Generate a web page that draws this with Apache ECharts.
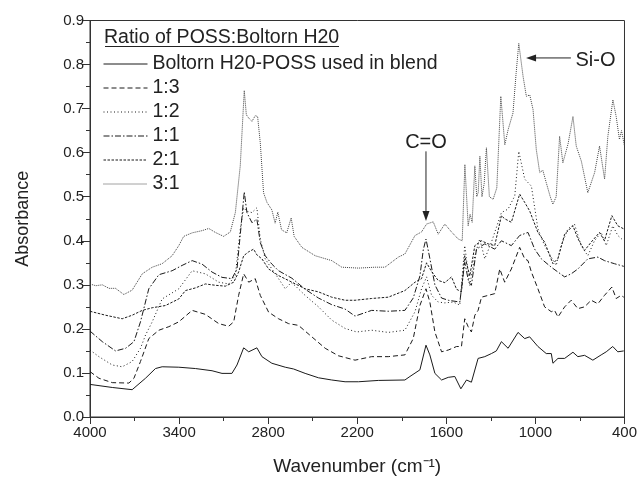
<!DOCTYPE html>
<html><head><meta charset="utf-8">
<script src="https://cdn.jsdelivr.net/npm/echarts@6/dist/echarts.min.js"></script>
<style>html,body{margin:0;padding:0;background:#fff}#c{width:640px;height:481px}</style>
</head><body><div id="c"></div>
<script>
// ---- Data (wavenumber in cm^-1, absorbance) ----
const seriesNames = ['Boltorn H20-POSS used in blend', '1:3', '1:2', '1:1', '2:1', '3:1'];
const xTickLabels = [4000, 3400, 2800, 2200, 1600, 1000, 400];
const yTickLabels = [0.0, 0.1, 0.2, 0.3, 0.4, 0.5, 0.6, 0.7, 0.8, 0.9];

const solidWn = [4000,3850,3716,3626,3559,3514,3402,3290,3178,3111,3044,3010,2965,2931,2876,2842,2775,2685,2629,2551,2461,2372,2282,2192,2058,1879,1845,1778,1737,1711,1677,1632,1587,1543,1502,1464,1431,1386,1341,1296,1263,1229,1184,1117,1072,1039,983,927,893,882,848,803,747,714,669,613,557,523,479,445,405];
const solidAbs = [0.074,0.067,0.062,0.088,0.110,0.114,0.113,0.110,0.105,0.099,0.099,0.118,0.157,0.148,0.157,0.137,0.122,0.113,0.109,0.099,0.089,0.084,0.080,0.080,0.083,0.084,0.092,0.107,0.163,0.141,0.099,0.084,0.090,0.092,0.064,0.084,0.079,0.133,0.137,0.144,0.150,0.171,0.156,0.192,0.178,0.182,0.160,0.144,0.144,0.122,0.133,0.133,0.147,0.137,0.140,0.129,0.141,0.148,0.160,0.148,0.150];

const r13Wn = [4000,3940,3850,3738,3704,3660,3604,3536,3469,3402,3312,3223,3133,3066,3032,2999,2965,2931,2887,2853,2797,2730,2663,2596,2506,2416,2327,2215,2103,1991,1879,1823,1778,1737,1711,1677,1632,1587,1531,1498,1476,1453,1431,1408,1386,1363,1319,1274,1240,1207,1162,1106,1072,1050,1027,983,938,893,871,848,803,759,714,669,624,579,535,485,456,423,405];
const r13Abs = [0.103,0.088,0.078,0.077,0.088,0.126,0.178,0.197,0.205,0.216,0.242,0.233,0.212,0.206,0.216,0.276,0.325,0.306,0.314,0.276,0.238,0.223,0.212,0.208,0.182,0.156,0.139,0.129,0.137,0.137,0.141,0.178,0.253,0.291,0.261,0.193,0.148,0.152,0.160,0.160,0.223,0.205,0.193,0.231,0.242,0.272,0.276,0.280,0.336,0.306,0.336,0.385,0.359,0.355,0.329,0.291,0.250,0.239,0.242,0.227,0.250,0.265,0.246,0.250,0.265,0.257,0.276,0.295,0.269,0.276,0.272];

const r12Wn = [4000,3940,3850,3783,3716,3660,3626,3581,3514,3402,3312,3223,3133,3066,3021,2988,2965,2943,2909,2876,2853,2820,2775,2730,2685,2645,2618,2551,2461,2372,2282,2204,2103,1991,1879,1811,1767,1733,1699,1655,1610,1554,1509,1476,1442,1408,1375,1341,1296,1251,1229,1184,1139,1112,1072,1027,983,938,893,860,826,781,737,692,647,602,557,523,479,445,405];
const r12Abs = [0.152,0.137,0.118,0.114,0.126,0.156,0.186,0.216,0.268,0.291,0.332,0.325,0.306,0.302,0.321,0.426,0.475,0.467,0.464,0.475,0.404,0.359,0.336,0.314,0.291,0.305,0.298,0.276,0.250,0.220,0.201,0.193,0.197,0.192,0.197,0.239,0.291,0.318,0.276,0.261,0.259,0.261,0.254,0.389,0.299,0.366,0.404,0.359,0.397,0.442,0.464,0.472,0.502,0.603,0.540,0.524,0.427,0.389,0.363,0.344,0.389,0.427,0.438,0.389,0.366,0.400,0.419,0.389,0.434,0.412,0.400];

const r11Wn = [4000,3917,3828,3760,3704,3660,3604,3536,3447,3380,3312,3245,3178,3111,3044,3010,2976,2961,2943,2909,2876,2853,2820,2775,2730,2640,2551,2461,2372,2282,2215,2103,1991,1879,1823,1778,1755,1737,1711,1677,1632,1587,1509,1476,1449,1431,1397,1341,1274,1229,1162,1106,1050,1005,960,893,848,803,759,714,647,579,535,468,405];
const r11Abs = [0.195,0.171,0.150,0.156,0.171,0.216,0.291,0.323,0.332,0.344,0.355,0.347,0.329,0.317,0.314,0.336,0.456,0.511,0.464,0.441,0.449,0.396,0.366,0.347,0.332,0.315,0.290,0.270,0.255,0.245,0.229,0.242,0.240,0.242,0.270,0.320,0.380,0.404,0.360,0.300,0.270,0.265,0.261,0.351,0.306,0.299,0.381,0.393,0.381,0.400,0.389,0.412,0.419,0.381,0.359,0.340,0.329,0.318,0.325,0.336,0.359,0.363,0.355,0.348,0.342];

const r21Wn = [4000,3895,3783,3716,3648,3581,3492,3402,3357,3290,3223,3156,3088,3032,2999,2965,2931,2898,2876,2842,2797,2730,2640,2551,2461,2372,2282,2215,2103,1991,1879,1811,1767,1733,1699,1655,1610,1565,1531,1498,1476,1442,1408,1363,1319,1274,1229,1207,1162,1106,1072,1039,983,938,882,848,803,747,714,669,624,568,535,485,445,405];
const r21Abs = [0.240,0.231,0.223,0.231,0.242,0.248,0.253,0.268,0.287,0.293,0.302,0.299,0.297,0.306,0.329,0.366,0.375,0.381,0.368,0.359,0.336,0.321,0.306,0.291,0.284,0.272,0.265,0.265,0.269,0.272,0.287,0.306,0.314,0.350,0.330,0.310,0.305,0.318,0.290,0.284,0.366,0.320,0.389,0.400,0.393,0.389,0.457,0.450,0.442,0.506,0.487,0.468,0.419,0.397,0.348,0.360,0.415,0.434,0.405,0.378,0.397,0.419,0.400,0.457,0.434,0.427];

const r31Wn = [4000,3962,3917,3872,3828,3772,3716,3648,3581,3514,3447,3402,3369,3312,3245,3200,3156,3100,3055,3021,2988,2961,2947,2932,2909,2887,2871,2853,2831,2808,2775,2753,2735,2710,2675,2645,2625,2573,2483,2372,2304,2192,2080,2013,1923,1879,1811,1767,1733,1688,1655,1610,1565,1520,1493,1475,1453,1440,1426,1408,1395,1385,1374,1360,1345,1330,1310,1285,1260,1233,1206,1184,1151,1130,1112,1083,1061,1038,1016,994,971,950,927,900,882,860,837,815,780,747,725,690,647,601,568,534,512,478,456,434,420,400];
const r31Abs = [0.302,0.298,0.300,0.292,0.292,0.278,0.288,0.325,0.340,0.348,0.366,0.389,0.410,0.418,0.423,0.428,0.419,0.410,0.420,0.464,0.570,0.741,0.686,0.679,0.671,0.684,0.682,0.622,0.509,0.487,0.470,0.440,0.465,0.425,0.418,0.452,0.410,0.385,0.366,0.355,0.340,0.338,0.340,0.340,0.363,0.370,0.412,0.420,0.438,0.443,0.415,0.438,0.420,0.404,0.400,0.573,0.434,0.460,0.442,0.570,0.500,0.510,0.592,0.500,0.530,0.611,0.500,0.494,0.520,0.728,0.618,0.652,0.690,0.780,0.848,0.773,0.728,0.731,0.698,0.607,0.555,0.560,0.532,0.500,0.483,0.500,0.637,0.577,0.620,0.682,0.615,0.580,0.509,0.555,0.615,0.540,0.637,0.720,0.682,0.630,0.650,0.615];

// ---- Build ----
const X0 = 4000; // axis value = X0 - wavenumber (axis runs 4000 -> 400)
const toPairs = (wn, ab) => wn.map((w, i) => [X0 - w, ab[i]]);
const dataSets = [
  toPairs(solidWn, solidAbs), toPairs(r13Wn, r13Abs), toPairs(r12Wn, r12Abs),
  toPairs(r11Wn, r11Abs), toPairs(r21Wn, r21Abs), toPairs(r31Wn, r31Abs)
];
const styles = [
  {type: 'solid', color: '#1a1a1a'},
  {type: [5, 3], color: '#1a1a1a'},
  {type: [1, 2.5], color: '#1a1a1a'},
  {type: [6, 2, 1.5, 2], color: '#1a1a1a'},
  {type: [2.5, 1.5], color: '#1a1a1a'},
  {type: [1, 1], color: '#444'}
];
const FONT = '"Liberation Sans", Arial, Helvetica, sans-serif';
const TXT = '#222';
const BIG = 19.5;

const chart = echarts.init(document.getElementById('c'), null, {renderer: 'canvas'});
chart.setOption({
  animation: false,
  backgroundColor: '#fff',
  grid: {left: 90, right: 14, top: 20.5, bottom: 62, show: true, borderColor: '#333', borderWidth: 1},
  legend: {
    orient: 'vertical', left: 103, top: 54, padding: 0, itemWidth: 44, itemHeight: 14, itemGap: 4,
    data: seriesNames,
    itemStyle: {opacity: 0, borderWidth: 0},
    lineStyle: {width: 1, type: 'inherit', color: 'inherit'},
    textStyle: {fontFamily: FONT, fontSize: BIG, color: TXT},
    selectedMode: false
  },
  xAxis: {
    type: 'value', min: 0, max: 3600, interval: 600,
    name: 'Wavenumber (cm⁻¹)', nameLocation: 'middle', nameGap: 40,
    nameTextStyle: {fontFamily: FONT, fontSize: 19, color: TXT},
    axisLine: {show: true, lineStyle: {color: '#333', width: 1}},
    axisTick: {show: true, length: 7, lineStyle: {color: '#333'}},
    minorTick: {show: true, splitNumber: 2, length: 4, lineStyle: {color: '#333'}},
    splitLine: {show: false},
    axisLabel: {fontFamily: FONT, fontSize: 15, color: TXT, margin: 8, formatter: v => String(X0 - v)}
  },
  yAxis: {
    type: 'value', min: 0, max: 0.9, interval: 0.1,
    name: 'Absorbance', nameLocation: 'middle', nameGap: 58, nameRotate: 90,
    nameTextStyle: {fontFamily: FONT, fontSize: 18, color: TXT},
    axisLine: {show: true, lineStyle: {color: '#333', width: 1}},
    axisTick: {show: true, length: 8, lineStyle: {color: '#333'}},
    minorTick: {show: true, splitNumber: 2, length: 4, lineStyle: {color: '#333'}},
    splitLine: {show: false},
    axisLabel: {fontFamily: FONT, fontSize: 15, color: TXT, margin: 6, formatter: v => v.toFixed(1)}
  },
  series: seriesNames.map((n, i) => ({
    name: n, type: 'line', data: dataSets[i], symbol: 'none', showSymbol: false,
    color: styles[i].color,
    lineStyle: {width: 1, type: styles[i].type, color: styles[i].color},
    z: 10 - i
  }))
});

// ---- Annotations (in data coordinates) ----
const P = (w, a) => chart.convertToPixel({gridIndex: 0}, [X0 - w, a]);
const coTop = P(1737, 0.603), coTip = P(1737, 0.445), coLbl = P(1737, 0.623);
const siFrom = P(761, 0.815), siTip = P(1063, 0.815), siLbl = P(730, 0.809);
const lineSty = {stroke: '#222', lineWidth: 1};
chart.setOption({
  graphic: [
    {type: 'text', left: 104, top: 28, style: {text: 'Ratio of POSS:Boltorn H20', font: BIG + 'px ' + FONT, fill: TXT}},
    {type: 'line', shape: {x1: 105, y1: 46.5, x2: 339, y2: 46.5}, style: {stroke: '#222', lineWidth: 1}},
    {type: 'text', x: coLbl[0], y: coLbl[1], style: {text: 'C=O', font: '20px ' + FONT, fill: TXT, align: 'center', verticalAlign: 'middle'}},
    {type: 'line', shape: {x1: coTop[0], y1: coTop[1], x2: coTip[0], y2: coTip[1] - 8}, style: lineSty},
    {type: 'polygon', shape: {points: [[coTip[0] - 3.5, coTip[1] - 10], [coTip[0] + 3.5, coTip[1] - 10], [coTip[0], coTip[1]]]}, style: {fill: '#222'}},
    {type: 'text', x: siLbl[0], y: siLbl[1], style: {text: 'Si-O', font: '20px ' + FONT, fill: TXT, align: 'left', verticalAlign: 'middle'}},
    {type: 'line', shape: {x1: siFrom[0], y1: siFrom[1], x2: siTip[0] + 8, y2: siTip[1]}, style: lineSty},
    {type: 'polygon', shape: {points: [[siTip[0] + 10, siTip[1] - 3.5], [siTip[0] + 10, siTip[1] + 3.5], [siTip[0], siTip[1]]]}, style: {fill: '#222'}}
  ]
});
</script></body></html>
